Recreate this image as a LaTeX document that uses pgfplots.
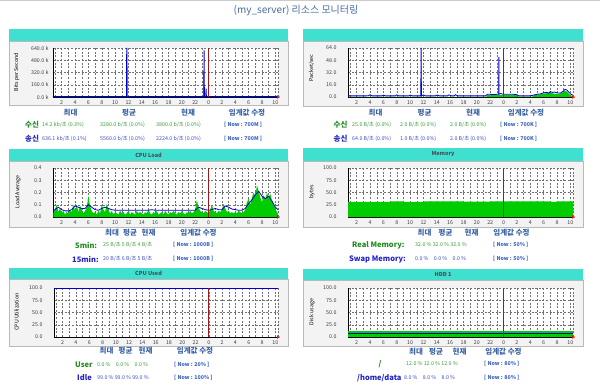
\documentclass[border=0pt]{standalone}
\usepackage{pgfplots}
\pgfplotsset{compat=1.18}
\usepackage{pgfplotstable}
\usepackage{fontspec}
\setmainfont{Noto Sans CJK KR}
\definecolor{teal1}{HTML}{40E0D0}
\definecolor{framec}{HTML}{F3F3F3}
\definecolor{grn}{HTML}{00CC00}
\definecolor{blu}{HTML}{0000CC}
\definecolor{lav}{HTML}{9999FF}
\definecolor{redl}{HTML}{991B1B}
\definecolor{gridc}{HTML}{707070}
\definecolor{hdrc}{HTML}{3B63A6}
\definecolor{lg}{HTML}{1E8C1E}
\definecolor{vg}{HTML}{3C9C3C}
\definecolor{lb}{HTML}{2323C8}
\definecolor{vb}{HTML}{3D4FC4}
\definecolor{nowc}{HTML}{3A62C4}
\definecolor{titlec}{HTML}{4A6C9E}
\newcommand\fs[1]{\fontsize{#1}{#1}\selectfont}
\newcommand\vf{\fs{5.3}}
\newcommand\hf{\bfseries\fs{7.5}}
\newcommand\panel[5]{%
 \fill[teal1] (#1pt,-#3pt) rectangle (#2pt,-#4pt);
 \filldraw[fill=framec, draw=gray!55, line width=0.8pt] (#1pt,-#4pt) rectangle (#2pt,-#5pt);
}
\tikzset{rgrid/.style={gridc, dash pattern=on 2pt off 1.6pt, line width=0.4pt}}
\pgfplotsset{
  mon/.style={
    scale only axis, width=225pt, height=49pt, anchor=south west,
    xmin=0.7, xmax=34.4, ymin=0,
    xtick={2,4,...,34},
    xticklabels={2,4,6,8,10,12,14,16,18,20,22,0,2,4,6,8,10},
    minor xtick={1,3,...,33},
    axis x line*=bottom, axis y line*=left,
    axis line style={-, black, line width=0.8pt},
    major tick length=0pt, minor tick length=0pt,
    grid=both,
    major grid style={rgrid},
    minor grid style={rgrid},
    tick label style={font=\fs{5.3}, text=black!75},
    /pgf/number format/assume math mode=true,
    xticklabel style={yshift=-0.3pt},
    yticklabel style={xshift=-8pt},
    axis background/.style={fill=white},
    clip mode=individual,
  },
  pct/.style={ymax=100, ytick={0,25,50,75,100}, yticklabels={0.0,25.0,50.0,75.0,100.0}},
  redline/.style={redl, line width=0.8pt},
  endmark/.style={only marks, mark=triangle*, mark size=1.6pt, color=red, mark options={rotate=-90}},
}
\pgfplotstableread{
x y
0.75 0.03
1.00 0.06
1.25 0.10
1.50 0.04
1.75 0.07
2.00 0.03
2.25 0.05
2.50 0.02
2.75 0.04
3.00 0.03
3.25 0.06
3.50 0.04
3.75 0.10
4.00 0.05
4.25 0.10
4.50 0.04
4.75 0.09
5.00 0.06
5.25 0.03
5.50 0.05
5.75 0.08
6.00 0.17
6.25 0.09
6.50 0.05
6.75 0.03
7.00 0.04
7.25 0.02
7.50 0.05
7.75 0.03
8.00 0.10
8.25 0.06
8.50 0.04
8.75 0.11
9.00 0.06
9.25 0.03
9.50 0.05
9.75 0.02
10.00 0.04
10.25 0.03
10.50 0.02
10.75 0.05
11.00 0.03
11.25 0.04
11.50 0.02
11.75 0.03
12.00 0.05
12.25 0.02
12.50 0.04
12.75 0.03
13.00 0.02
13.25 0.05
13.50 0.03
13.75 0.04
14.00 0.03
14.25 0.02
14.50 0.04
14.75 0.03
15.00 0.06
15.25 0.03
15.50 0.02
15.75 0.04
16.00 0.03
16.25 0.05
16.50 0.02
16.75 0.03
17.00 0.04
17.25 0.02
17.50 0.05
17.75 0.03
18.00 0.02
18.25 0.04
18.50 0.03
18.75 0.05
19.00 0.03
19.25 0.02
19.50 0.04
19.75 0.03
20.00 0.05
20.25 0.03
20.50 0.02
20.75 0.04
21.00 0.03
21.25 0.05
21.50 0.03
21.75 0.04
22.00 0.06
22.25 0.14
22.50 0.08
22.75 0.05
23.00 0.04
23.25 0.03
23.50 0.05
23.75 0.04
24.00 0.03
24.25 0.06
24.50 0.10
24.75 0.05
25.00 0.04
25.25 0.03
25.50 0.05
25.75 0.04
26.00 0.06
26.25 0.11
26.50 0.07
26.75 0.04
27.00 0.05
27.25 0.03
27.50 0.04
27.75 0.03
28.00 0.04
28.25 0.03
28.50 0.05
28.75 0.04
29.00 0.03
29.25 0.04
29.50 0.06
29.75 0.12
30.00 0.15
30.25 0.10
30.50 0.16
30.75 0.20
31.00 0.17
31.25 0.26
31.50 0.21
31.75 0.16
32.00 0.12
32.25 0.18
32.50 0.14
32.75 0.20
33.00 0.16
33.25 0.19
33.50 0.13
33.75 0.10
34.00 0.07
34.25 0.04
34.40 0.03
}\loadfive
\pgfplotstableread{
x y
0.75 0.05
1.00 0.06
1.50 0.08
2.00 0.06
2.50 0.05
3.00 0.05
3.50 0.06
4.00 0.09
4.50 0.08
5.00 0.07
5.50 0.07
6.00 0.10
6.50 0.08
7.00 0.06
7.50 0.055
8.00 0.07
8.50 0.08
9.00 0.07
9.50 0.06
10.00 0.055
15.00 0.055
15.50 0.06
16.00 0.055
22.00 0.055
22.50 0.08
23.00 0.07
23.50 0.06
24.00 0.055
24.50 0.06
25.00 0.07
25.50 0.06
26.00 0.06
26.50 0.09
27.00 0.08
27.50 0.065
28.00 0.06
28.50 0.055
29.00 0.055
29.50 0.07
30.00 0.11
30.50 0.14
31.00 0.18
31.50 0.21
32.00 0.17
32.50 0.15
33.00 0.17
33.50 0.13
34.00 0.08
34.40 0.06
}\loadfifteen
\begin{document}
\begin{tikzpicture}
\useasboundingbox (0,0) rectangle (600pt,-388pt);
\fill[white] (0,0) rectangle (600pt,-388pt);
\draw[gray!40, line width=1.2pt] (0,-0.8pt) -- (600pt,-0.8pt);
\node[font=\fs{10}, text=titlec] at (296pt,-10.5pt) {(my\_server) 리소스 모니터링};

\panel{9}{288}{29}{41}{105}
\panel{303}{583}{29}{41}{106}
\panel{9}{288}{149}{161}{227}
\panel{303}{583}{148}{161}{227}
\panel{9}{288}{268}{279}{346}
\panel{303}{583}{269}{280}{346}

\node[font=\bfseries\fs{5.5}, text=black!70] at (148.5pt,-155pt) {CPU Load};
\node[font=\bfseries\fs{5.5}, text=black!70] at (443pt,-154.5pt) {Memory};
\node[font=\bfseries\fs{5.5}, text=black!70] at (148.5pt,-273.5pt) {CPU Used};
\node[font=\bfseries\fs{5.5}, text=black!70] at (443pt,-274.5pt) {HDD 1};

\node[rotate=90, font=\fs{5.3}] at (16.5pt,-72pt) {Bits per Second};
\node[rotate=90, font=\fs{5.3}] at (311.5pt,-68pt) {Packet/sec};
\node[rotate=90, font=\fs{5.3}] at (18pt,-192pt) {Load Average};
\node[rotate=90, font=\fs{5.3}] at (312pt,-192pt) {bytes};
\node[rotate=90, font=\fs{5.3}] at (16.5pt,-312pt) {CPU Utilization};
\node[rotate=90, font=\fs{5.3}] at (312pt,-312pt) {Disk usage};

% ---------- Panel A: traffic bits
\begin{axis}[mon, at={(53pt,-97pt)}, ymax=640, ytick={0,160,320,480,640},
  yticklabels={0.0 k,160.0 k,320.0 k,480.0 k,640.0 k}, yticklabel style={xshift=7pt}]
\addplot[fill=lav, draw=none] coordinates {(11.78,0)(11.78,395)(11.9,395)(11.9,0)} \closedcycle;
\addplot[fill=lav, draw=none] coordinates {(23.2,0)(23.2,330)(23.3,330)(23.3,0)} \closedcycle;
\addplot[fill=grn, draw=none] coordinates {(0.7,1)(30,1)(31.5,3)(32,6)(32.5,2)(33,7)(33.5,3)(34.4,2)} \closedcycle;
\addplot[blu, line width=1pt] coordinates {(0.7,5)(11.72,5)(11.75,640)(11.78,5)(23.3,5)(23.33,610)(23.36,5)(23.6,5)(23.63,110)(23.66,5)(34.4,5)};
\addplot[redline] coordinates {(24,0)(24,640)};
\addplot[endmark] coordinates {(34.4,0)};
\draw[rgrid] (rel axis cs:1,0) -- (rel axis cs:1,1);
\end{axis}

% ---------- Panel B: packets
\begin{axis}[mon, at={(348pt,-97pt)}, ymax=64, ytick={0,16,32,48,64},
  yticklabels={0.0,16.0,32.0,48.0,64.0}]
\addplot[fill=lav, draw=none] coordinates {(11.68,0)(11.68,40)(11.78,40)(11.78,0)} \closedcycle;
\addplot[fill=lav, draw=none] coordinates {(23.18,0)(23.18,29)(23.28,29)(23.28,0)} \closedcycle;
\addplot[fill=grn, draw=none] coordinates {(0.7,0.3)(11.6,0.3)(11.65,25)(11.72,0.3)(21.4,0.3)(21.6,2.5)(23.2,2.5)(23.3,5)(23.4,2.5)(26,2.5)(26.3,0.5)(28.3,0.5)(28.6,2.5)(29.5,3.5)(30,4.5)(30.5,5)(31,5.5)(31.5,4.5)(32,4)(32.5,4)(33,7)(33.2,8)(33.5,7)(33.8,4)(34.1,2)(34.4,1.5)} \closedcycle;
\addplot[blu, line width=0.8pt] coordinates {(0.7,1.5)(3.5,1.5)(3.8,1.8)(4,3)(4.3,1.5)(5.8,1.5)(6,2.5)(6.3,1.5)(7.8,1.5)(8,2.8)(8.3,1.5)(9.8,1.5)(10,2.5)(10.3,1.5)(11.6,1.5)(11.65,64)(11.7,1.5)(12,2.8)(12.3,1.5)(13.8,1.5)(14,2.5)(14.4,1.5)(15.6,1.5)(15.8,2.8)(16.2,1.5)(16.6,1.5)(16.8,3)(17.1,1.5)(21.3,1.5)(21.6,3.5)(22,3.5)(22.5,3.2)(23,3.5)(23.27,3.5)(23.3,52)(23.33,4)(23.6,4.5)(24,3.5)(25.5,3.5)(26,3)(26.3,1.5)(28,1.5)(28.5,2.5)(29,3.5)(29.5,4)(30,5.5)(30.5,6)(30.8,5)(31,7)(31.3,6)(31.6,6.5)(32,5.5)(32.5,5)(33,8)(33.2,10)(33.5,9)(33.8,6)(34.1,3.5)(34.4,2.5)};
\addplot[redline] coordinates {(24,0)(24,64)};
\addplot[endmark] coordinates {(34.4,0)};
\draw[rgrid] (rel axis cs:1,0) -- (rel axis cs:1,1);
\end{axis}

% ---------- Panel C: CPU load
\begin{axis}[mon, at={(53pt,-217pt)}, ymax=0.4, ytick={0,0.1,0.2,0.3,0.4},
  yticklabels={0.0,0.1,0.2,0.3,0.4}]
\addplot[fill=grn, draw=none] table {\loadfive} \closedcycle;
\addplot[blu, line width=0.8pt] table {\loadfifteen};
\addplot[redline] coordinates {(24,0)(24,0.4)};
\addplot[endmark] coordinates {(34.4,0)};
\draw[rgrid] (rel axis cs:1,0) -- (rel axis cs:1,1);
\end{axis}

% ---------- Panel D: memory
\begin{axis}[mon, pct, at={(348pt,-217pt)}]
\addplot[fill=grn, draw=none, const plot] coordinates {(0.7,31)(7,32)(9,31)(12,32)(18,31.5)(22,32)(31,31)(32,32)(34.4,32)} \closedcycle;
\addplot[redline] coordinates {(24,0)(24,100)};
\addplot[endmark] coordinates {(34.4,0)};
\draw[rgrid] (rel axis cs:1,0) -- (rel axis cs:1,1);
\end{axis}

% ---------- Panel E: CPU used
\begin{axis}[mon, pct, at={(54pt,-337pt)}, width=224pt]
\addplot[blu, line width=0.8pt] coordinates {(0.7,99.5)(34.4,99.5)};
\addplot[redline] coordinates {(24,0)(24,100)};
\addplot[endmark] coordinates {(34.4,0)};
\draw[rgrid] (rel axis cs:1,0) -- (rel axis cs:1,1);
\end{axis}

% ---------- Panel F: HDD
\begin{axis}[mon, pct, at={(348pt,-337pt)}]
\addplot[fill=grn, draw=none] coordinates {(0.7,12)(34.4,12)} \closedcycle;
\addplot[blu, line width=1pt] coordinates {(0.7,8)(34.4,8)};
\addplot[redline] coordinates {(24,0)(24,100)};
\addplot[endmark] coordinates {(34.4,0)};
\draw[rgrid] (rel axis cs:1,0) -- (rel axis cs:1,1);
\end{axis}

% ---------- Texts panel A
\begin{scope}[every node/.style={inner sep=0pt}]
\node[font=\hf, text=hdrc] at (70.5pt,-113pt) {최대};
\node[font=\hf, text=hdrc] at (129pt,-113pt) {평균};
\node[font=\hf, text=hdrc] at (188pt,-113pt) {현재};
\node[font=\hf, text=hdrc] at (247pt,-113pt) {임계값 수정};
\node[font=\bfseries\fs{7.5}, text=lg] at (32pt,-125pt) {수신};
\node[font=\vf, text=vg, anchor=west] at (42pt,-125pt) {14.2 kb/초 (0.3\%)};
\node[font=\vf, text=vg, anchor=west] at (100pt,-125pt) {3280.0 b/초 (0.0\%)};
\node[font=\vf, text=vg, anchor=west] at (156pt,-125pt) {3800.0 b/초 (0.0\%)};
\node[font=\bfseries\vf, text=nowc, anchor=west] at (224pt,-125pt) {[ Now : 700M ]};
\node[font=\bfseries\fs{7.5}, text=lb] at (32pt,-139pt) {송신};
\node[font=\vf, text=vb, anchor=west] at (42pt,-139pt) {636.1 kb/초 (0.1\%)};
\node[font=\vf, text=vb, anchor=west] at (100pt,-139pt) {5560.0 b/초 (0.0\%)};
\node[font=\vf, text=vb, anchor=west] at (156pt,-139pt) {2224.0 b/초 (0.0\%)};
\node[font=\bfseries\vf, text=nowc, anchor=west] at (224pt,-139pt) {[ Now : 700M ]};

% panel B
\node[font=\hf, text=hdrc] at (375.5pt,-113pt) {최대};
\node[font=\hf, text=hdrc] at (424.5pt,-113pt) {평균};
\node[font=\hf, text=hdrc] at (473pt,-113pt) {현재};
\node[font=\hf, text=hdrc] at (526pt,-113pt) {임계값 수정};
\node[font=\bfseries\fs{7.5}, text=lg] at (340.5pt,-125pt) {수신};
\node[font=\vf, text=vg, anchor=west] at (352pt,-125pt) {25.0 B/초 (0.0\%)};
\node[font=\vf, text=vg, anchor=west] at (400pt,-125pt) {2.0 B/초 (0.0\%)};
\node[font=\vf, text=vg, anchor=west] at (450pt,-125pt) {2.0 B/초 (0.0\%)};
\node[font=\bfseries\vf, text=nowc, anchor=west] at (500pt,-125pt) {[ Now : 700K ]};
\node[font=\bfseries\fs{7.5}, text=lb] at (340.5pt,-139pt) {송신};
\node[font=\vf, text=vb, anchor=west] at (352pt,-139pt) {64.0 B/초 (0.0\%)};
\node[font=\vf, text=vb, anchor=west] at (400pt,-139pt) {1.0 B/초 (0.0\%)};
\node[font=\vf, text=vb, anchor=west] at (450pt,-139pt) {2.0 B/초 (0.0\%)};
\node[font=\bfseries\vf, text=nowc, anchor=west] at (500pt,-139pt) {[ Now : 700K ]};

% panel C
\node[font=\hf, text=hdrc] at (112pt,-233pt) {최대};
\node[font=\hf, text=hdrc] at (130pt,-233pt) {평균};
\node[font=\hf, text=hdrc] at (148.5pt,-233pt) {현재};
\node[font=\hf, text=hdrc] at (198.5pt,-233pt) {임계값 수정};
\node[font=\bfseries\fs{7.5}, text=lg, anchor=west] at (75pt,-245pt) {5min:};
\node[font=\vf, text=vg, anchor=west] at (103pt,-245pt) {25 B/초 5 B/초 4 B/초};
\node[font=\bfseries\vf, text=nowc, anchor=west] at (173pt,-245pt) {[ Now : 1000B ]};
\node[font=\bfseries\fs{7.5}, text=lb, anchor=west] at (72pt,-259pt) {15min:};
\node[font=\vf, text=vb, anchor=west] at (103pt,-259pt) {20 B/초 6 B/초 5 B/초};
\node[font=\bfseries\vf, text=nowc, anchor=west] at (173pt,-259pt) {[ Now : 1000B ]};

% panel D
\node[font=\hf, text=hdrc] at (424.5pt,-233pt) {최대};
\node[font=\hf, text=hdrc] at (445.5pt,-233pt) {평균};
\node[font=\hf, text=hdrc] at (471.5pt,-233pt) {현재};
\node[font=\hf, text=hdrc] at (511.5pt,-233pt) {임계값 수정};
\node[font=\bfseries\fs{7.5}, text=lg, anchor=west] at (352pt,-245pt) {Real Memory:};
\node[font=\vf, text=vg, anchor=west] at (415pt,-245pt) {32.0 \% 32.0 \% 32.0 \%};
\node[font=\bfseries\vf, text=nowc, anchor=west] at (493pt,-245pt) {[ Now : 50\% ]};
\node[font=\bfseries\fs{7.5}, text=lb, anchor=west] at (349pt,-259pt) {Swap Memory:};
\node[font=\vf, text=vb, anchor=west] at (415pt,-259pt) {0.0 \%\quad 0.0 \%\quad 0.0 \%};
\node[font=\bfseries\vf, text=nowc, anchor=west] at (493pt,-259pt) {[ Now : 50\% ]};

% panel E
\node[font=\hf, text=hdrc] at (106.5pt,-351pt) {최대};
\node[font=\hf, text=hdrc] at (125.5pt,-351pt) {평균};
\node[font=\hf, text=hdrc] at (145.5pt,-351pt) {현재};
\node[font=\hf, text=hdrc] at (195pt,-351pt) {임계값 수정};
\node[font=\bfseries\fs{7.5}, text=lg, anchor=west] at (75pt,-365pt) {User};
\node[font=\vf, text=vg, anchor=west] at (97pt,-365pt) {0.0 \%\quad 0.0 \%\quad 0.0 \%};
\node[font=\bfseries\vf, text=nowc, anchor=west] at (174pt,-365pt) {[ Now : 20\% ]};
\node[font=\bfseries\fs{7.5}, text=lb, anchor=west] at (77pt,-378pt) {Idle};
\node[font=\vf, text=vb, anchor=west] at (97pt,-378pt) {99.0 \% 99.0 \% 99.0 \%};
\node[font=\bfseries\vf, text=nowc, anchor=west] at (174pt,-378pt) {[ Now : 100\% ]};

% panel F
\node[font=\hf, text=hdrc] at (416pt,-352pt) {최대};
\node[font=\hf, text=hdrc] at (436pt,-352pt) {평균};
\node[font=\hf, text=hdrc] at (459.5pt,-352pt) {현재};
\node[font=\hf, text=hdrc] at (503.5pt,-352pt) {임계값 수정};
\node[font=\bfseries\fs{7.5}, text=lg] at (380pt,-364pt) {/};
\node[font=\vf, text=vg, anchor=west] at (406pt,-364pt) {12.0 \% 12.0 \% 12.0 \%};
\node[font=\bfseries\vf, text=nowc, anchor=west] at (484pt,-364pt) {[ Now : 80\% ]};
\node[font=\bfseries\fs{7.5}, text=lb, anchor=west] at (357pt,-378pt) {/home/data};
\node[font=\vf, text=vb, anchor=west] at (404pt,-378pt) {8.0 \%\quad 8.0 \%\quad 8.0 \%};
\node[font=\bfseries\vf, text=nowc, anchor=west] at (484pt,-378pt) {[ Now : 80\% ]};
\end{scope}
\end{tikzpicture}
\end{document}
